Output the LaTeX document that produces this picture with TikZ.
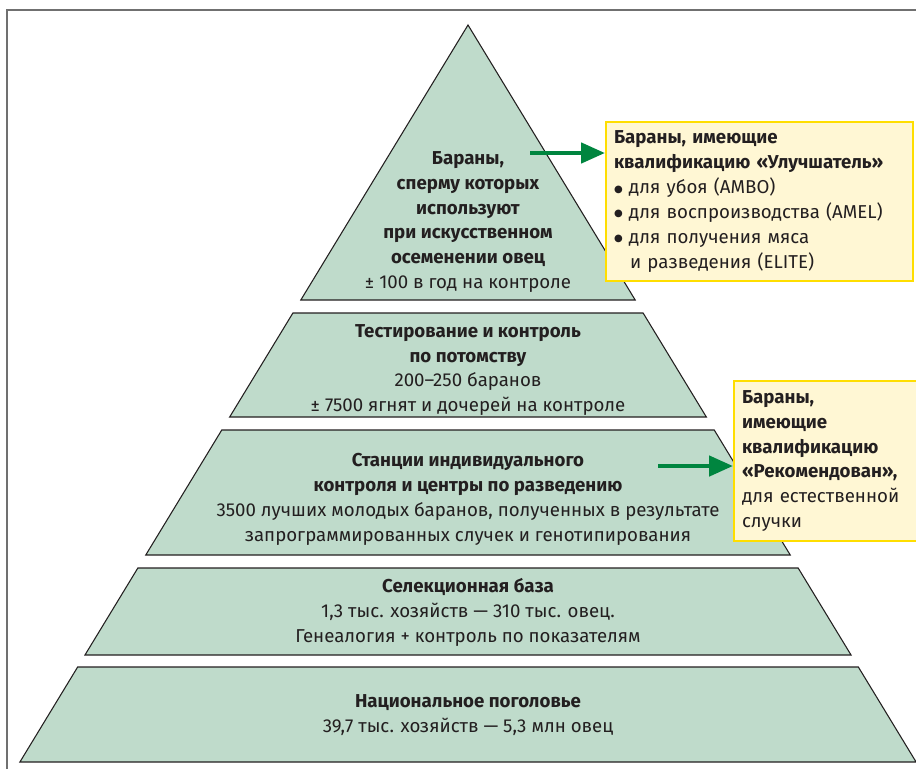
\documentclass[tikz,border=0pt]{standalone}
\usepackage{fontspec}
\setmainfont{Fira Sans}
\newfontfamily\dotfont{DejaVu Sans}
\usetikzlibrary{arrows.meta}
\definecolor{bandgreen}{RGB}{191,219,203}
\definecolor{noteyellow}{RGB}{255,247,212}
\definecolor{noteborder}{RGB}{255,222,0}
\definecolor{arrowgreen}{RGB}{0,133,63}
\definecolor{framegray}{RGB}{112,112,112}
\definecolor{inkdark}{RGB}{35,31,32}
\newcommand{\bigdot}{\raisebox{1pt}{\dotfont\fontsize{7.5}{7.5}\selectfont ●}}

\begin{document}
\begin{tikzpicture}[x=0.75pt, y=-0.75pt,
    every node/.style={font=\fontsize{14}{18.7}\selectfont, text=inkdark},
    band/.style={fill=bandgreen, draw=inkdark, line width=0.8pt},
    bandtext/.style={align=center, inner sep=0pt},
    note/.style={rectangle, draw=noteborder, fill=noteyellow, line width=1.5pt, align=left, anchor=north west, inner xsep=6pt},
    pointer/.style={draw=arrowgreen, line width=3.5pt, -{Triangle[length=18pt, width=15pt]}}]

\useasboundingbox (0,0) rectangle (916,769);

% Frame
\draw[framegray, line width=1.5pt] (7,769) -- (7,10) -- (916,10);

% Pyramid
\def\pslope{0.608}
\draw[band] (468,25) -- ({468+\pslope*275},300) -- ({468-\pslope*275},300) -- cycle;
\foreach \yt/\yb in {313/417, 430/555, 568/655, 667/762}
  \draw[band] ({468-\pslope*(\yt-25)},\yt) -- ({468+\pslope*(\yt-25)},\yt)
    -- ({468+\pslope*(\yb-25)},\yb) -- ({468-\pslope*(\yb-25)},\yb) -- cycle;

% Levels
\node[bandtext] (elite) at (468,222) {\textbf{Бараны,}\\ \textbf{сперму которых}\\ \textbf{используют}\\ \textbf{при искусственном}\\ \textbf{осеменении овец}\\ ± 100 в год на контроле};
\node[bandtext] (progeny) at (468,370) {\textbf{Тестирование и контроль}\\ \textbf{по потомству}\\ 200–250 баранов\\ ± 7500 ягнят и дочерей на контроле};
\node[bandtext] (stations) at (468,499) {\textbf{Станции индивидуального}\\ \textbf{контроля и центры по разведению}\\ 3500 лучших молодых баранов, полученных в результате\\ запрограммированных случек и генотипирования};
\node[bandtext] (selection) at (468,612) {\textbf{Селекционная база}\\ 1,3 тыс. хозяйств — 310 тыс. овец.\\ Генеалогия + контроль по показателям};
\node[bandtext] (national) at (468,715) {\textbf{Национальное поголовье}\\ 39,7 тыс. хозяйств — 5,3 млн овец};

% Notes
\node[note, text width=218pt, minimum height=119pt] (improver) at (605,121) {\textbf{Бараны, имеющие}\\ \textbf{квалификацию «Улучшатель»}\\ \bigdot\ для убоя (AMBO)\\ \bigdot\ для воспроизводства (AMEL)\\ \bigdot\ для получения мяса\\ \hspace*{12pt}и разведения (ELITE)};
\node[note, text width=126pt, minimum height=120pt] (recommended) at (733,380) {\textbf{Бараны,}\\ \textbf{имеющие}\\ \textbf{квалификацию}\\ \textbf{«Рекомендован»,}\\ для естественной\\ случки};

% Arrows
\coordinate (from1) at (530,153);
\coordinate (from2) at (658,466);
\draw[pointer] (from1) -- (from1 -| improver.west);
\draw[pointer] (from2) -- (from2 -| recommended.west);

\end{tikzpicture}
\end{document}
